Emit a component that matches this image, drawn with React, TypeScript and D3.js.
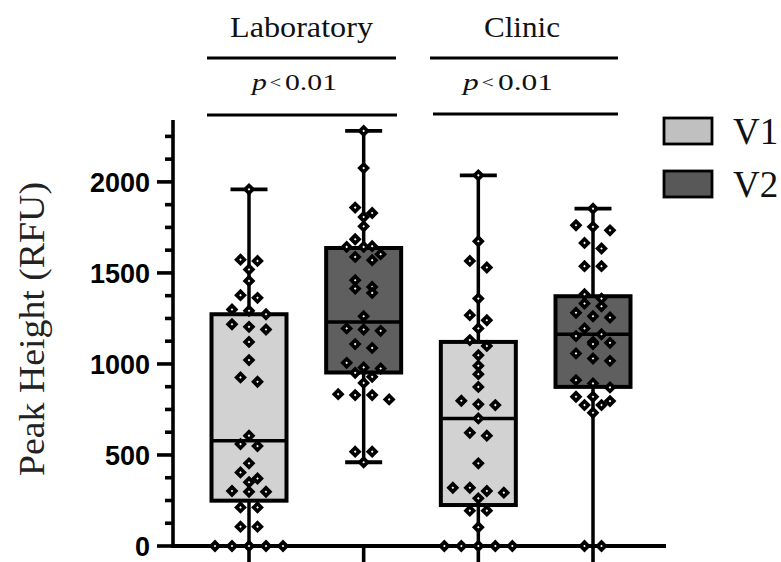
import React from "react";
import * as d3 from "d3";

const categories = ["Laboratory", "Clinic"];
const seriesNames = ["V1", "V2"];
const columns = ["Laboratory V1", "Laboratory V2", "Clinic V1", "Clinic V2"];

const labV1 = [1959, 1573, 1566, 1519, 1456, 1378, 1363, 1299, 1292, 1273, 1218, 1204, 1189, 1121, 1021, 926, 902, 606, 560, 549, 454, 404, 371, 350, 302, 298, 298, 212, 212, 106, 106, 0, 0, 0, 0, 0];
const labV2 = [2280, 2076, 1859, 1829, 1807, 1756, 1685, 1647, 1643, 1643, 1603, 1588, 1570, 1460, 1423, 1414, 1390, 1262, 1195, 1189, 1182, 1109, 1088, 1006, 981, 975, 951, 929, 896, 834, 829, 829, 805, 518, 518, 460];
const clinicV1 = [2036, 1674, 1566, 1530, 1359, 1268, 1240, 1195, 1131, 1099, 1048, 990, 944, 874, 798, 778, 774, 701, 622, 606, 454, 320, 320, 302, 293, 262, 194, 194, 103, 0, 0, 0, 0, 0];
const clinicV2 = [1853, 1762, 1753, 1734, 1665, 1634, 1537, 1537, 1383, 1359, 1332, 1317, 1281, 1262, 1255, 1195, 1163, 1153, 1121, 1116, 1109, 1058, 1030, 1017, 911, 893, 871, 820, 820, 796, 774, 774, 732, 0, 0];

const boxMin = [0, 460, 0, 0];
const boxQ1 = [249, 953, 225, 874];
const boxMedian = [578, 1231, 701, 1163];
const boxQ3 = [1273, 1637, 1121, 1372];
const boxMax = [1959, 2280, 2036, 1853];

const yMajorTicks = [0, 500, 1000, 1500, 2000];
const yAxisMax = 2340;
const yMinorStep = 125;
const pLabel = "0.01";

const W = 781;
const H = 562;
const fills = ["#d2d2d2", "#5f5f5f"];
const legendFills = ["#c0c0c0", "#585858"];
const serif = "'Liberation Serif', 'Times New Roman', serif";
const sans = "'Liberation Sans', Arial, sans-serif";

function swarm(values: number[], y: (v: number) => number, rowPx: number, stepPx: number) {
  const sorted = [...values].sort((a, b) => b - a);
  const out: { v: number; dx: number }[] = [];
  let i = 0;
  while (i < sorted.length) {
    const start = sorted[i];
    const row: number[] = [];
    while (i < sorted.length && y(sorted[i]) - y(start) <= rowPx) {
      row.push(sorted[i]);
      i++;
    }
    const n = row.length;
    row.forEach((v, k) => out.push({ v, dx: (k - (n - 1) / 2) * stepPx }));
  }
  return out;
}

export default function App() {
  const y = d3.scaleLinear().domain([0, yAxisMax]).range([546, 120]);
  const x = d3.scalePoint<string>().domain(columns).range([249, 593]);
  const data = [labV1, labV2, clinicV1, clinicV2];
  const boxW = 75;
  const capW = 37;
  const minorTicks = d3.range(0, yAxisMax + 1, yMinorStep).filter((t) => !yMajorTicks.includes(t));
  const diamond = d3.symbol().type(d3.symbolSquare).size(30)()!;

  return (
    <svg width={W} height={H} style={{ position: "absolute", left: 0, top: 0, background: "#fff" }}>
      {/* top annotations */}
      <text x={301.5} y={37} textAnchor="middle" fontFamily={serif} fontSize={29} textLength={143} lengthAdjust="spacingAndGlyphs" fill="#111">{categories[0]}</text>
      <text x={522} y={37} textAnchor="middle" fontFamily={serif} fontSize={29} textLength={76} lengthAdjust="spacingAndGlyphs" fill="#111">{categories[1]}</text>
      <line x1={207} x2={396} y1={58} y2={58} stroke="#000" strokeWidth={3.2} />
      <line x1={430} x2={618} y1={58} y2={58} stroke="#000" strokeWidth={3.2} />
      <text x={252} y={90} fontFamily={serif} fontSize={23} fill="#111" textLength={85} lengthAdjust="spacingAndGlyphs">
        <tspan fontStyle="italic">p</tspan>
        <tspan fontSize={16} dx={2} dy={-2}>&lt;</tspan>
        <tspan dx={3} dy={2}>{pLabel}</tspan>
      </text>
      <text x={463} y={90} fontFamily={serif} fontSize={23} fill="#111" textLength={90} lengthAdjust="spacingAndGlyphs">
        <tspan fontStyle="italic">p</tspan>
        <tspan fontSize={16} dx={2} dy={-2}>&lt;</tspan>
        <tspan dx={3} dy={2}>{pLabel}</tspan>
      </text>
      <line x1={207} x2={397} y1={115} y2={115} stroke="#000" strokeWidth={3.2} />
      <line x1={433} x2={618} y1={114} y2={114} stroke="#000" strokeWidth={3.2} />

      {/* y axis label */}
      <text transform="translate(44,329) rotate(-90)" textAnchor="middle" fontFamily={serif} fontSize={36} fill="#222" textLength={294} lengthAdjust="spacingAndGlyphs">Peak Height (RFU)</text>

      {/* boxes */}
      {columns.map((c, i) => {
        const cx = x(c)!;
        const fill = fills[i % 2];
        return (
          <g key={c}>
            <line x1={cx} x2={cx} y1={y(boxQ3[i])} y2={y(boxMax[i])} stroke="#000" strokeWidth={3.5} />
            <line x1={cx} x2={cx} y1={y(boxQ1[i])} y2={y(boxMin[i])} stroke="#000" strokeWidth={3.5} />
            <line x1={cx - capW / 2} x2={cx + capW / 2} y1={y(boxMax[i])} y2={y(boxMax[i])} stroke="#000" strokeWidth={3.8} />
            <line x1={cx - capW / 2} x2={cx + capW / 2} y1={y(boxMin[i])} y2={y(boxMin[i])} stroke="#000" strokeWidth={3.8} />
            <rect x={cx - boxW / 2} y={y(boxQ3[i])} width={boxW} height={y(boxQ1[i]) - y(boxQ3[i])} fill={fill} stroke="#000" strokeWidth={4} />
            <line x1={cx - boxW / 2} x2={cx + boxW / 2} y1={y(boxMedian[i])} y2={y(boxMedian[i])} stroke="#000" strokeWidth={3.5} />
          </g>
        );
      })}

      {/* axes */}
      <line x1={173} x2={173} y1={120} y2={548} stroke="#000" strokeWidth={3.6} />
      <line x1={171.5} x2={666} y1={546} y2={546} stroke="#000" strokeWidth={3.8} />
      {yMajorTicks.map((t) => (
        <g key={t}>
          <line x1={157} x2={173} y1={y(t)} y2={y(t)} stroke="#000" strokeWidth={3.6} />
          <text x={150} y={y(t)} dy="0.36em" textAnchor="end" fontFamily={sans} fontWeight="bold" fontSize={27} fill="#000">{t}</text>
        </g>
      ))}
      {minorTicks.map((t) => (
        <line key={t} x1={165} x2={173} y1={y(t)} y2={y(t)} stroke="#000" strokeWidth={3.6} />
      ))}
      {columns.map((c) => (
        <line key={c} x1={x(c)!} x2={x(c)!} y1={546} y2={566} stroke="#000" strokeWidth={3.6} />
      ))}

      {/* points */}
      {data.map((vals, i) => {
        const cx = x(columns[i])!;
        return (
          <g key={i}>
            {swarm(vals, y, 7.5, 17).map((p, k) => (
              <path key={k} d={diamond} transform={`translate(${cx + p.dx},${y(p.v)}) rotate(45)`} fill="#fff" stroke="#000" strokeWidth={3.6} />
            ))}
          </g>
        );
      })}

      {/* legend */}
      {seriesNames.map((s, i) => (
        <g key={s}>
          <rect x={664} y={118 + i * 53} width={48} height={26} fill={legendFills[i]} stroke="#000" strokeWidth={2.8} />
          <text x={733} y={144 + i * 53} fontFamily={serif} fontSize={37} fill="#111">{s}</text>
        </g>
      ))}
    </svg>
  );
}
